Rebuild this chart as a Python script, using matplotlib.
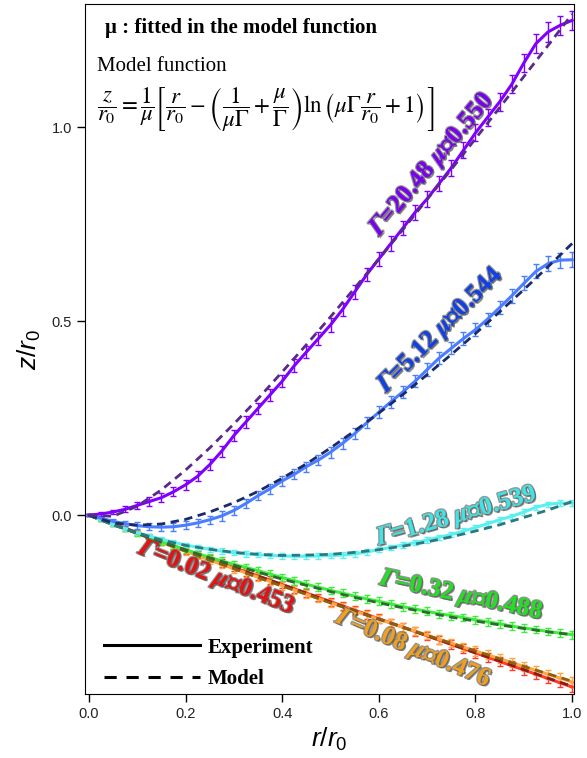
import numpy as np
import matplotlib
matplotlib.use("Agg")
import matplotlib.pyplot as plt
import matplotlib.patheffects as pe
from matplotlib.lines import Line2D

plt.rcParams["font.family"] = ["Liberation Sans", "DejaVu Sans"]
plt.rcParams["mathtext.fontset"] = "custom"
plt.rcParams["mathtext.it"] = "Liberation Sans:italic"
plt.rcParams["mathtext.rm"] = "Liberation Sans"

SERIF = ["Liberation Serif", "DejaVu Serif"]

# sampling grids (error bars every 0.025, model every 0.05)
R_EXP = np.linspace(0.0, 1.0, 41)
R_MODEL = np.linspace(0.0, 1.0, 21)

# ---- Gamma = 20.48, mu = 0.550 (purple)
EXP_2048 = [0, 0.003, 0.008, 0.015, 0.025, 0.035, 0.045, 0.06, 0.078, 0.1,
            0.13, 0.165, 0.205, 0.24, 0.275, 0.31, 0.345, 0.385, 0.42, 0.455,
            0.49, 0.53, 0.575, 0.62, 0.66, 0.7, 0.74, 0.78, 0.815, 0.855,
            0.895, 0.94, 0.985, 1.025, 1.065, 1.11, 1.165, 1.215, 1.245, 1.262, 1.275]
ERR_2048 = [0.002, 0.004, 0.006, 0.008, 0.010, 0.011, 0.012, 0.012, 0.013, 0.013,
            0.014, 0.014, 0.014, 0.015, 0.015, 0.015, 0.016, 0.016, 0.016, 0.017,
            0.017, 0.017, 0.018, 0.018, 0.018, 0.019, 0.019, 0.020, 0.020, 0.020,
            0.021, 0.021, 0.022, 0.022, 0.023, 0.023, 0.024, 0.024, 0.025, 0.025, 0.025]
MODEL_2048 = [0, -0.003, 0.023, 0.065, 0.116, 0.173, 0.235, 0.300, 0.369, 0.439,
              0.511, 0.585, 0.660, 0.736, 0.814, 0.891, 0.970, 1.050, 1.130, 1.210, 1.291]

# ---- Gamma = 5.12, mu = 0.544 (blue)
EXP_512 = [0, -0.008, -0.016, -0.022, -0.027, -0.030, -0.031, -0.030, -0.026, -0.020,
           -0.012, -0.002, 0.012, 0.030, 0.050, 0.068, 0.088, 0.105, 0.125, 0.142,
           0.162, 0.185, 0.21, 0.238, 0.265, 0.292, 0.318, 0.345, 0.375, 0.405,
           0.43, 0.455, 0.478, 0.505, 0.535, 0.565, 0.597, 0.628, 0.648, 0.657, 0.658]
ERR_512 = [0.002, 0.004, 0.006, 0.007, 0.008, 0.009, 0.010, 0.010, 0.011, 0.011,
           0.011, 0.012, 0.012, 0.012, 0.012, 0.013, 0.013, 0.013, 0.013, 0.013,
           0.014, 0.014, 0.014, 0.014, 0.015, 0.015, 0.015, 0.015, 0.016, 0.016,
           0.016, 0.016, 0.017, 0.017, 0.017, 0.018, 0.018, 0.018, 0.019, 0.019, 0.019]
MODEL_512 = [0, -0.020, -0.026, -0.023, -0.011, 0.008, 0.032, 0.061, 0.095, 0.132,
             0.173, 0.217, 0.263, 0.311, 0.362, 0.414, 0.468, 0.524, 0.581, 0.640, 0.700]

# ---- Gamma = 1.28, mu = 0.539 (cyan)
EXP_128 = [0, -0.012, -0.024, -0.035, -0.045, -0.054, -0.062, -0.070, -0.077, -0.083,
           -0.088, -0.093, -0.097, -0.100, -0.102, -0.104, -0.105, -0.106, -0.106, -0.105,
           -0.104, -0.103, -0.100, -0.095, -0.089, -0.083, -0.077, -0.071, -0.064, -0.057,
           -0.050, -0.041, -0.032, -0.022, -0.012, -0.003, 0.008, 0.020, 0.028, 0.031, 0.031]
ERR_128 = [0.002, 0.003, 0.004, 0.005, 0.005, 0.006, 0.006, 0.006, 0.006, 0.007,
           0.007, 0.007, 0.007, 0.007, 0.007, 0.007, 0.007, 0.007, 0.007, 0.007,
           0.007, 0.007, 0.007, 0.007, 0.007, 0.007, 0.007, 0.007, 0.007, 0.007,
           0.007, 0.007, 0.007, 0.007, 0.007, 0.007, 0.007, 0.007, 0.007, 0.007, 0.007]
MODEL_128 = [0, -0.025, -0.046, -0.064, -0.078, -0.088, -0.096, -0.101, -0.104, -0.103,
             -0.101, -0.096, -0.089, -0.080, -0.069, -0.056, -0.041, -0.025, -0.006, 0.013, 0.035]

# ---- Gamma = 0.32, mu = 0.488 (green)
EXP_032 = [0, -0.012, -0.024, -0.035, -0.047, -0.058, -0.069, -0.079, -0.089, -0.099,
           -0.109, -0.118, -0.127, -0.135, -0.143, -0.152, -0.161, -0.169, -0.178, -0.186,
           -0.194, -0.201, -0.209, -0.216, -0.222, -0.229, -0.236, -0.242, -0.248, -0.254,
           -0.259, -0.264, -0.270, -0.275, -0.280, -0.286, -0.291, -0.295, -0.300, -0.304, -0.308]
ERR_032 = [0.002, 0.004, 0.005, 0.006, 0.007, 0.008, 0.008, 0.009, 0.009, 0.009,
           0.010, 0.010, 0.010, 0.010, 0.010, 0.010, 0.010, 0.010, 0.010, 0.010,
           0.010, 0.010, 0.010, 0.010, 0.010, 0.010, 0.010, 0.010, 0.010, 0.010,
           0.010, 0.010, 0.010, 0.010, 0.010, 0.010, 0.010, 0.010, 0.010, 0.010, 0.010]
MODEL_032 = [0, -0.024, -0.047, -0.069, -0.090, -0.110, -0.129, -0.147, -0.165, -0.181,
             -0.197, -0.212, -0.226, -0.239, -0.251, -0.263, -0.273, -0.283, -0.292, -0.301, -0.308]

# ---- Gamma = 0.08, mu = 0.476 (orange)
EXP_008 = [0, -0.012, -0.024, -0.035, -0.047, -0.059, -0.070, -0.082, -0.093, -0.104,
           -0.116, -0.127, -0.138, -0.149, -0.160, -0.171, -0.182, -0.193, -0.204, -0.215,
           -0.226, -0.236, -0.247, -0.258, -0.268, -0.278, -0.289, -0.299, -0.309, -0.320,
           -0.330, -0.340, -0.350, -0.360, -0.370, -0.380, -0.390, -0.400, -0.410, -0.420, -0.430]
ERR_008 = [0.002, 0.004, 0.005, 0.006, 0.007, 0.008, 0.008, 0.009, 0.009, 0.009,
           0.010, 0.010, 0.010, 0.010, 0.010, 0.010, 0.010, 0.010, 0.010, 0.010,
           0.010, 0.010, 0.010, 0.011, 0.011, 0.011, 0.011, 0.011, 0.011, 0.011,
           0.011, 0.011, 0.012, 0.012, 0.012, 0.012, 0.012, 0.012, 0.012, 0.012, 0.012]
MODEL_008 = [0, -0.024, -0.047, -0.070, -0.093, -0.116, -0.138, -0.161, -0.183, -0.204,
             -0.226, -0.247, -0.268, -0.289, -0.310, -0.330, -0.350, -0.370, -0.390, -0.409, -0.428]

# ---- Gamma = 0.02, mu = 0.453 (red)
EXP_002 = [0, -0.011, -0.023, -0.034, -0.045, -0.057, -0.068, -0.079, -0.090, -0.101,
           -0.112, -0.124, -0.135, -0.146, -0.157, -0.168, -0.179, -0.190, -0.201, -0.212,
           -0.223, -0.234, -0.245, -0.256, -0.267, -0.278, -0.289, -0.300, -0.311, -0.322,
           -0.333, -0.344, -0.355, -0.366, -0.377, -0.388, -0.399, -0.410, -0.421, -0.432, -0.443]
ERR_002 = ERR_008
MODEL_002 = [0, -0.023, -0.045, -0.068, -0.090, -0.113, -0.135, -0.157, -0.179, -0.201,
             -0.224, -0.246, -0.268, -0.289, -0.311, -0.333, -0.355, -0.376, -0.398, -0.420, -0.441]

GAMMA_TXT = ["20.48", "5.12", "1.28", "0.32", "0.08", "0.02"]
MU_TXT = ["0.550", "0.544", "0.539", "0.488", "0.476", "0.453"]


def curve_label(g, m):
    # Greek letters in bold italic math, the rest as plain bold serif text
    return r"$\mathbfit{\Gamma}$=" + g + r" $\mathbfit{\mu}$" + "\u2245" + m


# (exp, err, model, line colour, dash colour, label colour, label x, label y, angle, index)
series = [
    (EXP_002, ERR_002, MODEL_002, "#ff3a2a", "#8b1a1a", "#e81010", 0.265, -0.162, -21.5, 5),
    (EXP_008, ERR_008, MODEL_008, "#ffa640", "#8b6010", "#f0a020", 0.672, -0.345, -23, 4),
    (EXP_032, ERR_032, MODEL_032, "#3cee3c", "#2e6b2e", "#22e022", 0.772, -0.208, -12, 3),
    (EXP_128, ERR_128, MODEL_128, "#5af0f0", "#2a7a80", "#40e4e4", 0.762, -0.003, 16, 2),
    (EXP_512, ERR_512, MODEL_512, "#4a7dff", "#1a2a6a", "#1040e8", 0.728, 0.478, 45, 1),
    (EXP_2048, ERR_2048, MODEL_2048, "#8000ff", "#5a2a8a", "#7a00f0", 0.71, 0.905, 50, 0),
]

fig = plt.figure(figsize=(5.87, 7.58), dpi=100)
ax = fig.add_axes([0.1448, 0.0844, 0.8332, 0.9103])

glow = [pe.SimplePatchShadow(offset=(1.2, -1.2), shadow_rgbFace="#303030", alpha=0.55),
        pe.Stroke(linewidth=1.8, foreground="#505050", alpha=0.6), pe.Normal()]

for exp, err, model, c, dc, lc, lx, ly, ang, k in series:
    ax.errorbar(R_EXP, exp, yerr=err, color=c, lw=2.2, elinewidth=1,
                capsize=2.2, capthick=1, zorder=2)
    ax.plot(R_MODEL, model, color=dc, lw=2, ls=(0, (3, 2)), zorder=3)
    ax.text(lx, ly, curve_label(GAMMA_TXT[k], MU_TXT[k]), color=lc, fontsize=18.5,
            fontweight="bold", family=SERIF,
            rotation=ang, rotation_mode="anchor", ha="center", va="center",
            math_fontfamily="stix", path_effects=glow, zorder=4)

ax.set_xlim(-0.008, 1.004)
ax.set_ylim(-0.461, 1.317)
ax.set_xticks([0.0, 0.2, 0.4, 0.6, 0.8, 1.0])
ax.set_xticklabels(["0.0", "0.2", "0.4", "0.6", "0.8", "1.0"])
ax.set_yticks([0.0, 0.5, 1.0])
ax.set_yticklabels(["0.0", "0.5", "1.0"])
ax.tick_params(direction="out", length=6, width=1, labelsize=10.5,
               labelcolor="#222222")
ax.set_xlabel(r"$r/r_0$", fontsize=19, labelpad=3)
ax.set_ylabel(r"$z/r_0$", fontsize=19, labelpad=6)

ax.text(0.041, 0.965, "\u03bc : fitted in the model function", transform=ax.transAxes,
        fontsize=15, fontweight="bold", family=SERIF, va="center", ha="left")
ax.text(0.0245, 0.910, "Model function", transform=ax.transAxes,
        fontsize=15, family=SERIF, va="center", ha="left")
eq = (r"$\dfrac{z}{r_0}=\dfrac{1}{\mu}\left[\dfrac{r}{r_0}-\left(\dfrac{1}{\mu\mathit{\Gamma}}"
      r"+\dfrac{\mu}{\mathit{\Gamma}}\right)\ln\left(\mu\mathit{\Gamma}\dfrac{r}{r_0}+1\right)\right]$")
ax.text(0.0245, 0.847, eq, transform=ax.transAxes, fontsize=16.5,
        math_fontfamily="stix", va="center", ha="left")

handles = [Line2D([], [], color="black", lw=2.2),
           Line2D([], [], color="black", lw=2.2, ls=(0, (4, 3.2)))]
ax.legend(handles, ["Experiment", "Model"], loc="lower left",
          bbox_to_anchor=(0.0, -0.02), frameon=False, handlelength=4.6,
          handletextpad=0.4, labelspacing=0.55,
          prop={"family": SERIF, "weight": "bold", "size": 15})

fig.savefig("out.png", dpi=100)
